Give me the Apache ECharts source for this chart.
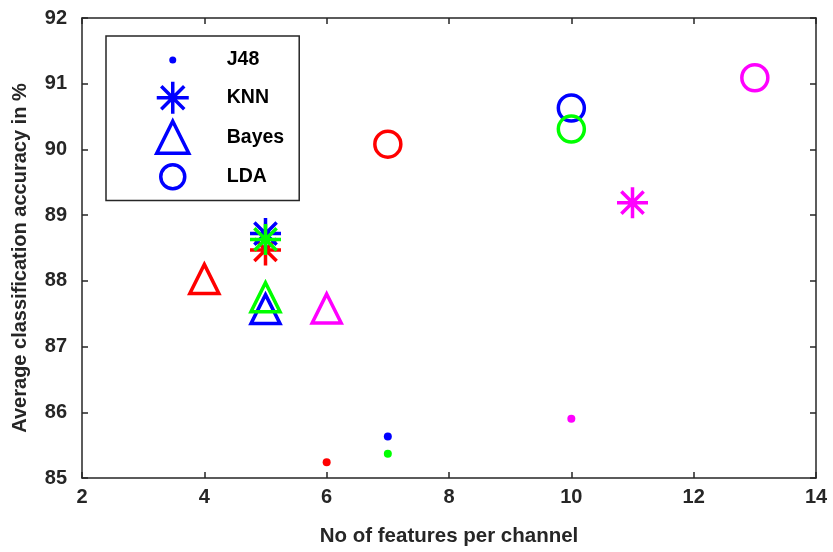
<!DOCTYPE html>
<html><head><meta charset="utf-8">
<script src="https://cdn.jsdelivr.net/npm/echarts@6/dist/echarts.min.js"></script>
<style>html,body{margin:0;padding:0;background:#fff}#c{width:833px;height:552px}</style>
</head><body><div id="c"></div>
<script>
// ---- data ----
const classifiers = ['J48', 'KNN', 'Bayes', 'LDA'];
const j48X = [6, 7, 7, 10];
const j48Y = [85.24, 85.63, 85.37, 85.90];
const j48G = ['red', 'blue', 'green', 'magenta'];
const knnX = [5, 5, 5, 11];
const knnY = [88.47, 88.72, 88.63, 89.19];
const knnG = ['red', 'blue', 'green', 'magenta'];
const bayesX = [4, 5, 5, 6];
const bayesY = [88.03, 87.57, 87.75, 87.58];
const bayesG = ['red', 'blue', 'green', 'magenta'];
const ldaX = [7, 10, 10, 13];
const ldaY = [90.08, 90.63, 90.31, 91.09];
const ldaG = ['red', 'blue', 'green', 'magenta'];
const xTicks = [2, 4, 6, 8, 10, 12, 14];
const yTicks = [85, 86, 87, 88, 89, 90, 91, 92];

// ---- styles ----
const palette = { red: '#ff0000', green: '#00ff00', blue: '#0000ff', magenta: '#ff00ff' };
const starPath = 'path://M16,0L16,32M0,16L32,16M4.5,4.5L27.5,27.5M4.5,27.5L27.5,4.5';
const dotLegendPath = 'path://M0,0M32,32M12.5,16a3.5,3.5 0 1,0 7,0a3.5,3.5 0 1,0 -7,0Z';
const circleLegendPath = 'path://M0,0M32,32M4,16a12,12 0 1,0 24,0a12,12 0 1,0 -24,0Z';
const axisColor = '#262626';
const font = 'Liberation Sans, Arial, sans-serif';

function pts(xs, ys, gs, filled) {
  return xs.map((x, i) => ({
    value: [x, ys[i]],
    itemStyle: filled ? { color: palette[gs[i]], opacity: 1 }
                      : { color: 'rgba(0,0,0,0)', borderColor: palette[gs[i]], opacity: 1 }
  }));
}

const chart = echarts.init(document.getElementById('c'), null, { renderer: 'canvas' });
const baseAxisX = {
  type: 'value', min: 2, max: 14, interval: 2,
  axisLine: { lineStyle: { color: axisColor, width: 1.5 } },
  axisTick: { inside: true, length: 6, lineStyle: { color: axisColor, width: 1.5 } },
  splitLine: { show: false }
};
const baseAxisY = {
  type: 'value', min: 85, max: 92, interval: 1,
  axisLine: { lineStyle: { color: axisColor, width: 1.5 } },
  axisTick: { inside: true, length: 6, lineStyle: { color: axisColor, width: 1.5 } },
  splitLine: { show: false }
};
chart.setOption({
  animation: false,
  backgroundColor: '#fff',
  grid: { left: 82, top: 18, right: 17, bottom: 74, containLabel: false },
  xAxis: [
    Object.assign({}, baseAxisX, {
      position: 'bottom',
      name: 'No of features per channel', nameLocation: 'middle', nameGap: 48,
      nameTextStyle: { fontFamily: font, fontWeight: 'bold', fontSize: 20.5, color: axisColor },
      axisLabel: { margin: 9, fontFamily: font, fontWeight: 'bold', fontSize: 20, color: axisColor,
        formatter: v => xTicks.includes(v) ? String(v) : '' }
    }),
    Object.assign({}, baseAxisX, { position: 'top', axisLabel: { show: false } })
  ],
  yAxis: [
    Object.assign({}, baseAxisY, {
      position: 'left',
      name: 'Average classification accuracy in %', nameLocation: 'middle', nameGap: 52,
      nameTextStyle: { fontFamily: font, fontWeight: 'bold', fontSize: 20, color: axisColor, padding: [0, 20, 0, 0] },
      axisLabel: { margin: 15, fontFamily: font, fontWeight: 'bold', fontSize: 20, color: axisColor,
        formatter: v => yTicks.includes(v) ? String(v) : '' }
    }),
    Object.assign({}, baseAxisY, { position: 'right', axisLabel: { show: false } })
  ],
  legend: {
    orient: 'vertical', left: 106, top: 36,
    padding: [8, 15, 6, 49],
    itemWidth: 32, itemHeight: 32, itemGap: 4,
    borderColor: axisColor, borderWidth: 1.5, backgroundColor: '#fff',
    itemStyle: { borderWidth: 3.5, opacity: 1 },
    textStyle: { fontFamily: font, fontWeight: 'bold', fontSize: 19.5, color: '#000', padding: [0, 0, 0, 33] },
    data: [
      { name: 'J48', icon: dotLegendPath },
      { name: 'KNN', icon: starPath },
      { name: 'Bayes', icon: 'triangle' },
      { name: 'LDA', icon: circleLegendPath }
    ]
  },
  series: [
    { name: 'J48', type: 'scatter', symbol: 'circle', symbolSize: 8,
      itemStyle: { color: '#0000ff', opacity: 1 }, data: pts(j48X, j48Y, j48G, true) },
    { name: 'KNN', type: 'scatter', symbol: starPath, symbolSize: 31,
      itemStyle: { color: 'rgba(0,0,0,0)', borderColor: '#0000ff', borderWidth: 3.5, opacity: 1 },
      data: pts(knnX, knnY, knnG, false) },
    { name: 'Bayes', type: 'scatter', symbol: 'triangle', symbolSize: 29,
      itemStyle: { color: 'rgba(0,0,0,0)', borderColor: '#0000ff', borderWidth: 3.5, opacity: 1 },
      data: pts(bayesX, bayesY, bayesG, false) },
    { name: 'LDA', type: 'scatter', symbol: 'circle', symbolSize: 26,
      itemStyle: { color: 'rgba(0,0,0,0)', borderColor: '#0000ff', borderWidth: 3.5, opacity: 1 },
      data: pts(ldaX, ldaY, ldaG, false) }
  ]
});
</script></body></html>
